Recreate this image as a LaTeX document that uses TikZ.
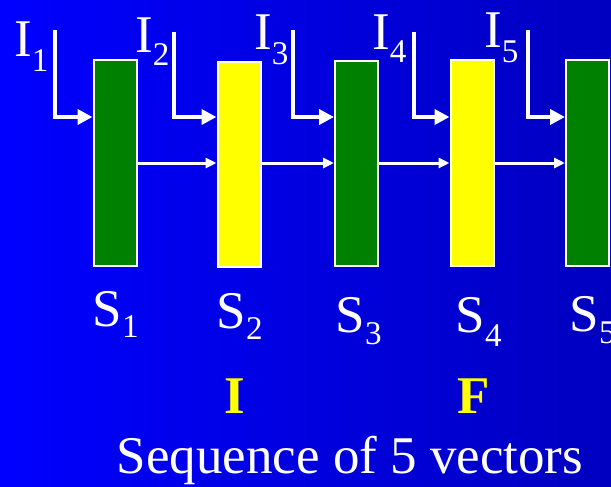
\documentclass[tikz,border=0pt]{standalone}
\usepackage{fontspec}
\usepackage{graphicx}
\setmainfont{Liberation Serif}
\usetikzlibrary{arrows.meta}
\definecolor{bgleft}{RGB}{0,0,255}
\definecolor{bgright}{RGB}{0,0,192}
\definecolor{boxgreen}{RGB}{0,128,0}
\definecolor{boxyellow}{RGB}{255,255,0}
% large serif text: 40pt set, then enlarged
\newcommand{\bigtext}[1]{\scalebox{1.325}{\fontsize{40}{44}\selectfont #1}}
\newcommand{\lowsub}[2]{\raisebox{-#1pt}{\fontsize{25}{28}\selectfont #2}}
\begin{document}
\begin{tikzpicture}[x=1pt,y=-1pt,
  stage/.style={draw=white,line width=2pt,minimum width=43pt,minimum height=205pt,inner sep=0pt},
  greenstage/.style={stage,fill=boxgreen},
  yellowstage/.style={stage,fill=boxyellow},
  txtlabel/.style={text=white,inner sep=0pt,anchor=base west},
  flaglabel/.style={text=boxyellow,inner sep=0pt,anchor=base west,font=\bfseries},
  inarrow/.style={draw=white,line width=4pt,-{Triangle[length=15pt,width=15pt]}},
  chain/.style={draw=white,line width=3pt,-{Triangle[length=11pt,width=10pt]}}]
  % background
  \shade[left color=bgleft,right color=bgright] (0,0) rectangle (611,487);
  \useasboundingbox (0,0) rectangle (611,487);

  % stages
  \node[greenstage]  (S1) at (115,163) {};
  \node[yellowstage] (S2) at (239,164.5) {};
  \node[greenstage]  (S3) at (356.5,163.5) {};
  \node[yellowstage] (S4) at (472,163) {};
  \node[greenstage]  (S5) at (587.5,163) {};

  % input labels
  \node[txtlabel] (I1) at (14,57)  {\bigtext{I\lowsub{10.6}{1}}};
  \node[txtlabel] (I2) at (135,53) {\bigtext{I\lowsub{9.8}{2}}};
  \node[txtlabel] (I3) at (254,50) {\bigtext{I\lowsub{11.3}{3}}};
  \node[txtlabel] (I4) at (372,50) {\bigtext{I\lowsub{9.8}{4}}};
  \node[txtlabel] (I5) at (484,48) {\bigtext{I\lowsub{10.6}{5}}};

  % input arrows: down, then right into each stage
  \coordinate (t1) at (55,30);  \coordinate (c1) at (55,117);
  \coordinate (t2) at (174,32); \coordinate (c2) at (174,117);
  \coordinate (t3) at (293,30); \coordinate (c3) at (293,117);
  \coordinate (t4) at (414,32); \coordinate (c4) at (414,117);
  \coordinate (t5) at (528,30); \coordinate (c5) at (528,117);
  \draw[inarrow] (t1) -- (c1) -- (c1 -| S1.west);
  \draw[inarrow] (t2) -- (c2) -- (c2 -| S2.west);
  \draw[inarrow] (t3) -- (c3) -- (c3 -| S3.west);
  \draw[inarrow] (t4) -- (c4) -- (c4 -| S4.west);
  \draw[inarrow] (t5) -- (c5) -- (c5 -| S5.west);

  % chain of stages
  \draw[chain] (S1.east) -- (S1.east -| S2.west);
  \draw[chain] (S2.east |- S1.east) -- (S1.east -| S3.west);
  \draw[chain] (S3.east |- S1.east) -- (S1.east -| S4.west);
  \draw[chain] (S4.east |- S1.east) -- (S1.east -| S5.west);

  % stage labels
  \node[txtlabel] (L1) at (92.5,326)  {\bigtext{S\lowsub{9}{1}}};
  \node[txtlabel] (L2) at (216.5,328) {\bigtext{S\lowsub{9}{2}}};
  \node[txtlabel] (L3) at (335.5,332) {\bigtext{S\lowsub{9.8}{3}}};
  \node[txtlabel] (L4) at (455.5,332) {\bigtext{S\lowsub{10.6}{4}}};
  \node[txtlabel] (L5) at (569.5,331) {\bigtext{S\lowsub{9.8}{5}}};

  % yellow marks under S2 and S4
  \node[flaglabel] (mI) at (224,413) {\bigtext{\bfseries I}};
  \node[flaglabel] (mF) at (457,413) {\bigtext{\bfseries F}};

  % caption
  \node[txtlabel] (cap) at (116.5,473) {\bigtext{Sequence of 5 vectors}};
\end{tikzpicture}
\end{document}
